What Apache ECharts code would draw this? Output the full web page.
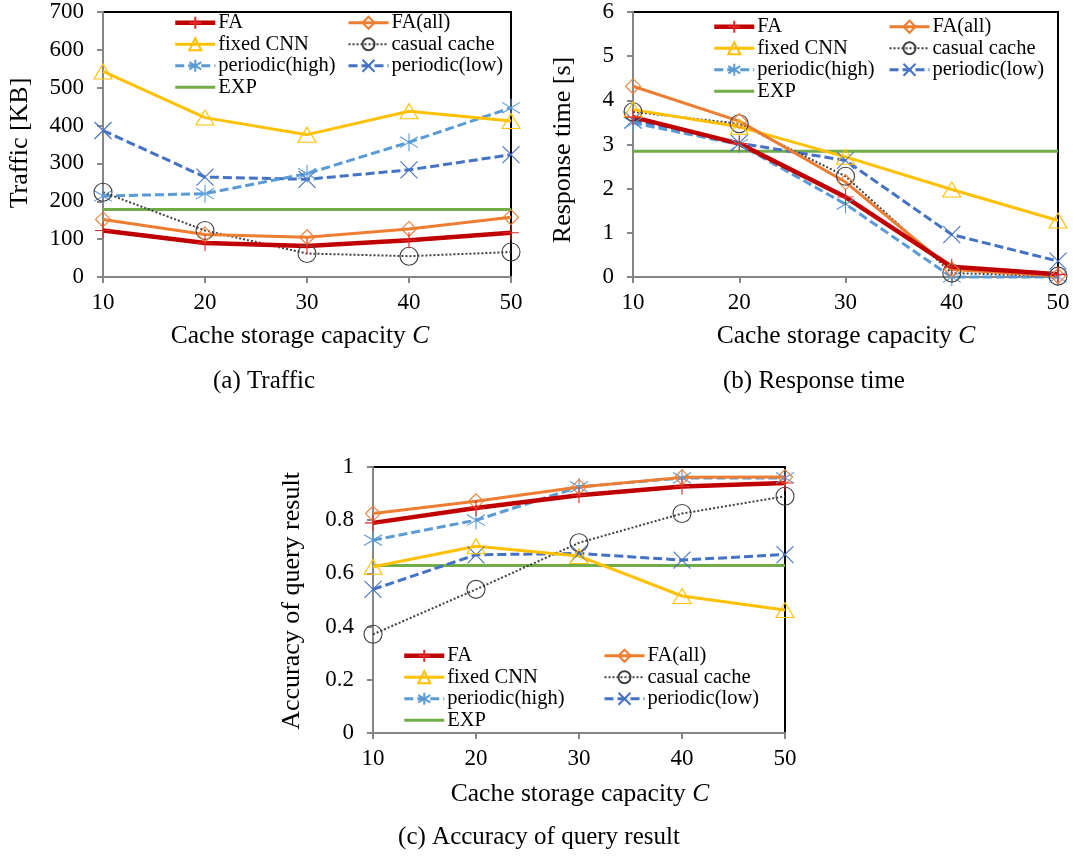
<!DOCTYPE html>
<html>
<head>
<meta charset="utf-8">
<title>Cache storage capacity</title>
<script src="https://cdn.jsdelivr.net/npm/echarts@6/dist/echarts.min.js"></script>
<style>
  html, body { margin: 0; padding: 0; background: #fff; }
  #main { width: 1073px; height: 858px; }
</style>
</head>
<body>
<div id="main"></div>
<script>
const capacity = ['10', '20', '30', '40', '50']

// (a) Traffic [KB]
const trafficFA = [123, 90, 82, 97, 117]
const trafficFAall = [152, 112, 105, 127, 158]
const trafficFixed = [543, 421, 376, 438, 412]
const trafficCasual = [224, 123, 62, 55, 66]
const trafficHigh = [214, 220, 273, 356, 447]
const trafficLow = [387, 264, 258, 283, 323]
const trafficEXP = [178, 178, 178, 178, 178]

// (b) Response time [s]
const respFA = [3.62, 3.02, 1.81, 0.23, 0.06]
const respFAall = [4.32, 3.53, 2.15, 0.17, 0.02]
const respFixed = [3.79, 3.40, 2.72, 1.98, 1.28]
const respCasual = [3.74, 3.47, 2.28, 0.09, 0.02]
const respHigh = [3.49, 3.00, 1.65, 0.0, 0.0]
const respLow = [3.55, 3.03, 2.64, 0.96, 0.36]
const respEXP = [2.85, 2.85, 2.85, 2.85, 2.85]

// (c) Accuracy of query result
const accFA = [0.79, 0.846, 0.894, 0.927, 0.94]
const accFAall = [0.825, 0.871, 0.925, 0.961, 0.962]
const accFixed = [0.625, 0.702, 0.665, 0.515, 0.462]
const accCasual = [0.371, 0.54, 0.715, 0.825, 0.89]
const accHigh = [0.725, 0.80, 0.925, 0.959, 0.959]
const accLow = [0.54, 0.67, 0.675, 0.65, 0.671]
const accEXP = [0.63, 0.63, 0.63, 0.63, 0.63]

const FONT = 'Liberation Serif'

// line and marker look per series
const looks = {
  'FA': { color: '#C00000', mark: '#E02828', width: 4.5, type: 'solid', symbol: 'path://M5,0 L5,10 M0,5 L10,5', size: 16 },
  'FA(all)': { color: '#ED7D31', mark: '#ED7D31', width: 3, type: 'solid', symbol: 'diamond', size: 15 },
  'fixed CNN': { color: '#FFC000', mark: '#FFC000', width: 3, type: 'solid', symbol: 'triangle', size: [18, 15] },
  'casual cache': { color: '#404040', mark: '#404040', width: 2, type: [2, 2], symbol: 'circle', size: 18 },
  'periodic(high)': { color: '#5B9BD5', mark: '#5B9BD5', width: 3, type: [9, 4], symbol: 'path://M5,0 L5,10 M0.7,2 L9.3,8 M0.7,8 L9.3,2', size: 18 },
  'periodic(low)': { color: '#4472C4', mark: '#4472C4', width: 3, type: [9, 4], symbol: 'path://M0,0 L10,10 M0,10 L10,0', size: 17 },
  'EXP': { color: '#70AD47', mark: 'rgba(0,0,0,0)', width: 3, type: 'solid', symbol: 'circle', size: 1 }
}

const makeSeries = (idx, name, values) => {
  const lk = looks[name]
  return {
    name: name,
    type: 'line',
    xAxisIndex: idx,
    yAxisIndex: idx,
    data: values,
    clip: false,
    symbol: lk.symbol,
    symbolSize: lk.size,
    showAllSymbol: true,
    lineStyle: { color: lk.color, width: lk.width, type: lk.type },
    itemStyle: { color: 'rgba(0,0,0,0)', borderColor: lk.mark, borderWidth: 1.1 },
    emphasis: { disabled: true },
    animation: false
  }
}

const xAxisOf = (idx) => ({
  type: 'category',
  gridIndex: idx,
  data: capacity,
  boundaryGap: false,
  axisLine: { lineStyle: { color: '#868686', width: 2 } },
  axisTick: { length: 6, lineStyle: { color: '#868686', width: 2 } },
  axisLabel: { color: '#000', fontFamily: FONT, fontSize: 23, margin: 14 },
  splitLine: { show: false }
})

const yAxisOf = (idx, max, interval, fmt) => ({
  type: 'value',
  gridIndex: idx,
  min: 0,
  max: max,
  interval: interval,
  axisLine: { show: true, lineStyle: { color: '#868686', width: 2 } },
  axisTick: { show: true, length: 6, lineStyle: { color: '#868686', width: 2 } },
  axisLabel: { color: '#000', fontFamily: FONT, fontSize: 23, margin: 19, formatter: fmt },
  splitLine: { show: false }
})

const legendOf = (left, top, names) => ({
  orient: 'vertical',
  left: left,
  top: top,
  data: names.map((n) => ({
    name: n,
    lineStyle: { width: looks[n].width, type: looks[n].type, color: looks[n].color }
  })),
  itemWidth: 40,
  itemHeight: 15,
  itemGap: 0,
  selectedMode: false,
  textStyle: { color: '#000', fontFamily: FONT, fontSize: 20.5, lineHeight: 21.5, padding: [0, 0, 0, -2] },
  padding: 0
})

const leftNames = ['FA', 'fixed CNN', 'periodic(high)', 'EXP']
const rightNames = ['FA(all)', 'casual cache', 'periodic(low)']

const textAt = (x, y, text, size, rot) => ({
  type: 'text',
  x: x,
  y: y,
  rotation: rot || 0,
  style: {
    text: text,
    align: 'center',
    verticalAlign: 'middle',
    fill: '#000',
    font: size + 'px "' + FONT + '"',
    rich: {
      n: { fontFamily: FONT, fontSize: size, fill: '#000' },
      i: { fontFamily: FONT, fontSize: size, fontStyle: 'italic', fill: '#000' }
    }
  }
})

const xTitle = '{n|Cache storage capacity }{i|C}'

const chart = echarts.init(document.getElementById('main'))
chart.setOption({
  backgroundColor: '#fff',
  animation: false,
  grid: [
    { left: 103, top: 12, width: 408, height: 265, show: true, borderColor: '#000', borderWidth: 2 },
    { left: 633, top: 12, width: 425, height: 265, show: true, borderColor: '#000', borderWidth: 2 },
    { left: 373, top: 467, width: 412, height: 266, show: true, borderColor: '#000', borderWidth: 2 }
  ],
  xAxis: [xAxisOf(0), xAxisOf(1), xAxisOf(2)],
  yAxis: [
    yAxisOf(0, 700, 100),
    yAxisOf(1, 6, 1),
    yAxisOf(2, 1, 0.2, (v) => String(Math.round(v * 10) / 10))
  ],
  legend: [
    legendOf(173, 12, leftNames),
    legendOf(347, 12, rightNames),
    legendOf(712, 16, leftNames),
    legendOf(888, 16, rightNames),
    legendOf(402, 645, leftNames),
    legendOf(603, 645, rightNames)
  ],
  series: [
    makeSeries(0, 'EXP', trafficEXP),
    makeSeries(0, 'periodic(low)', trafficLow),
    makeSeries(0, 'periodic(high)', trafficHigh),
    makeSeries(0, 'casual cache', trafficCasual),
    makeSeries(0, 'fixed CNN', trafficFixed),
    makeSeries(0, 'FA(all)', trafficFAall),
    makeSeries(0, 'FA', trafficFA),

    makeSeries(1, 'EXP', respEXP),
    makeSeries(1, 'periodic(low)', respLow),
    makeSeries(1, 'periodic(high)', respHigh),
    makeSeries(1, 'casual cache', respCasual),
    makeSeries(1, 'fixed CNN', respFixed),
    makeSeries(1, 'FA(all)', respFAall),
    makeSeries(1, 'FA', respFA),

    makeSeries(2, 'EXP', accEXP),
    makeSeries(2, 'periodic(low)', accLow),
    makeSeries(2, 'periodic(high)', accHigh),
    makeSeries(2, 'casual cache', accCasual),
    makeSeries(2, 'fixed CNN', accFixed),
    makeSeries(2, 'FA(all)', accFAall),
    makeSeries(2, 'FA', accFA)
  ],
  graphic: [
    textAt(20, 143, 'Traffic [KB]', 26, Math.PI / 2),
    textAt(563, 150, 'Response time [s]', 26, Math.PI / 2),
    textAt(292, 601, 'Accuracy of query result', 26, Math.PI / 2),
    textAt(300, 336, xTitle, 25.5),
    textAt(846, 336, xTitle, 25.5),
    textAt(580, 794, xTitle, 25.5),
    textAt(264, 381, '(a) Traffic', 25),
    textAt(814, 381, '(b) Response time', 25),
    textAt(539, 837, '(c) Accuracy of query result', 25)
  ]
})
</script>
</body>
</html>
